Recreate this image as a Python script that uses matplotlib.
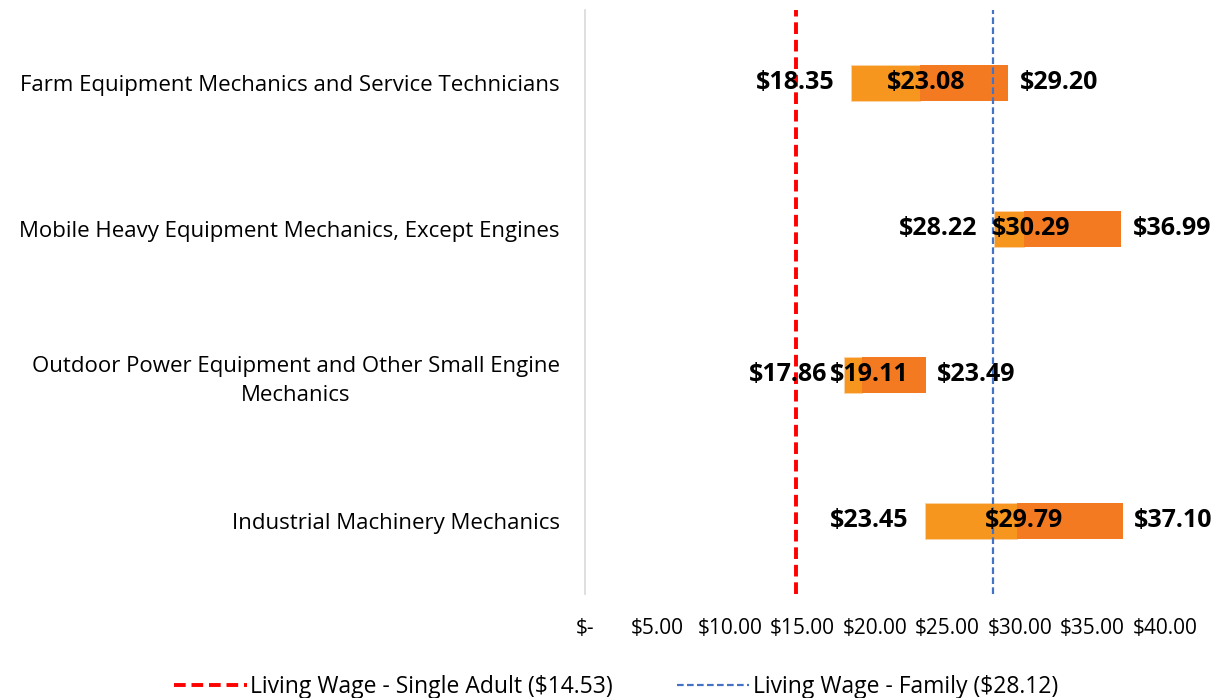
import matplotlib.pyplot as plt
from matplotlib.lines import Line2D

plt.rcParams["font.family"] = ["Open Sans", "DejaVu Sans"]

occupations = [
    "Farm Equipment Mechanics and Service Technicians",
    "Mobile Heavy Equipment Mechanics, Except Engines",
    "Outdoor Power Equipment and Other Small Engine\nMechanics",
    "Industrial Machinery Mechanics",
]
low_wage = [18.35, 28.22, 17.86, 23.45]
median_wage = [23.08, 30.29, 19.11, 29.79]
high_wage = [29.20, 36.99, 23.49, 37.10]

living_single = 14.53
living_family = 28.12

x_ticks = [0, 5, 10, 15, 20, 25, 30, 35, 40]
x_ticklabels = ["$-", "$5.00", "$10.00", "$15.00", "$20.00", "$25.00", "$30.00", "$35.00", "$40.00"]

LIGHT = "#F7961F"
DARK = "#F47A22"

fig = plt.figure(figsize=(12.2, 6.98), dpi=100)
ax = fig.add_axes([0.4795, 0.149, 0.4754, 0.8367])

ys = list(range(len(occupations)))
bar_h = 0.25
for y, lo, med, hi in zip(ys, low_wage, median_wage, high_wage):
    ax.barh(y, med - lo, left=lo, height=bar_h, color=LIGHT, edgecolor="#FCD3A5", linewidth=0.6, zorder=2)
    ax.barh(y, hi - med, left=med, height=bar_h, color=DARK, linewidth=0, zorder=2)
    ax.annotate(f"${lo:.2f}", (lo, y), xytext=(-12, 0), textcoords="offset points",
                ha="right", va="center", fontsize=18, fontweight="bold", zorder=5)
    ax.annotate(f"${med:.2f}", (med, y), xytext=(5, 0), textcoords="offset points",
                ha="center", va="center", fontsize=18, fontweight="bold", zorder=5)
    ax.annotate(f"${hi:.2f}", (hi, y), xytext=(8, 0), textcoords="offset points",
                ha="left", va="center", fontsize=18, fontweight="bold", zorder=5)

ax.axvline(living_single, color="#FF0000", linestyle=(0, (3, 1.5)), linewidth=2.8, zorder=4)
ax.axvline(living_family, color="#4472C4", linestyle=(0, (3, 1.5)), linewidth=1.6, zorder=4)

ax.set_xlim(0, 40)
ax.set_ylim(len(occupations) - 0.5, -0.5)
ax.set_xticks(x_ticks)
ax.set_xticklabels(x_ticklabels, fontsize=15)
ax.set_yticks(ys)
ax.set_yticklabels(occupations, fontsize=16)
for lab in ax.get_yticklabels():
    lab.set_multialignment("center")
    lab.set_linespacing(1.45)
ax.tick_params(axis="both", length=0)
ax.tick_params(axis="x", pad=17)
ax.tick_params(axis="y", pad=18)
for s in ["top", "right", "bottom"]:
    ax.spines[s].set_visible(False)
ax.spines["left"].set_color("#D9D9D9")
ax.spines["left"].set_linewidth(1.2)

handles = [
    Line2D([], [], color="#FF0000", linestyle=(0, (3, 1.5)), linewidth=2.8),
    Line2D([], [], color="#4472C4", linestyle=(0, (3, 1.5)), linewidth=1.6),
]
fig.legend(handles, ["Living Wage - Single Adult ($14.53)", "Living Wage - Family ($28.12)"],
           loc="lower center", bbox_to_anchor=(0.505, -0.031), ncol=2, frameon=False,
           fontsize=16.5, handlelength=3.15, handletextpad=0.15, columnspacing=2.8)

fig.savefig("out.png", dpi=100)
